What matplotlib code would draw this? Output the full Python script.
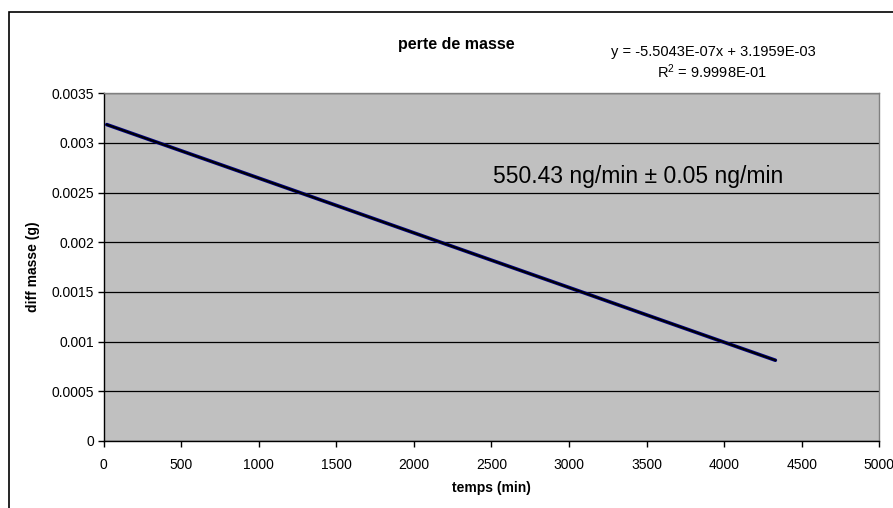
import matplotlib.pyplot as plt
from matplotlib.patches import Rectangle

plt.rcParams['font.family'] = ['Liberation Sans', 'DejaVu Sans']

# mesures : temps (min) et perte de masse (g)
temps = [20, 500, 1000, 1500, 2000, 2500, 3000, 3500, 4000, 4330]
diff_masse = [0.003185, 0.002921, 0.002646, 0.002371, 0.002095,
              0.001820, 0.001545, 0.001269, 0.000994, 0.000813]

# courbe de tendance (Excel)
pente = -5.5043E-07
origine = 3.1959E-03
r2_txt = '9.9998E-01'
debit_txt = '550.43 ng/min \u00b1 0.05 ng/min'

fig = plt.figure(figsize=(8.93, 5.08), dpi=100)
ax = fig.add_axes([103.7 / 893, 1 - 441 / 508, (879.3 - 103.7) / 893, (441 - 93.3) / 508])

# cadre du graphique
fig.patches.append(Rectangle((9 / 893, -0.1), 1.2, 1 - 12 / 508 + 0.1,
                             transform=fig.transFigure, fill=False,
                             edgecolor='black', linewidth=1.2))

ax.set_facecolor('#c0c0c0')
ax.plot(temps, diff_masse, color='#000080', linewidth=2.6, solid_capstyle='round', zorder=3)
xt = [temps[0], temps[-1]]
ax.plot(xt, [pente * x + origine for x in xt], color='black', linewidth=1.4, zorder=4)

ax.set_xlim(0, 5000)
ax.set_ylim(0, 0.0035)
ax.set_xticks(range(0, 5001, 500))
yticks = [0, 0.0005, 0.001, 0.0015, 0.002, 0.0025, 0.003, 0.0035]
ax.set_yticks(yticks)
ax.set_yticklabels(['0', '0.0005', '0.001', '0.0015', '0.002', '0.0025', '0.003', '0.0035'])
ax.grid(axis='y', color='black', linewidth=0.9)
ax.set_axisbelow(True)
for s in ['top', 'right']:
    ax.spines[s].set_color('#808080')
    ax.spines[s].set_linewidth(1)
for s in ['left', 'bottom']:
    ax.spines[s].set_linewidth(1)
ax.tick_params(axis='both', labelsize=10, length=4, width=1, direction='out')
ax.tick_params(axis='x', pad=8)
ax.tick_params(axis='y', pad=3)

ax.set_xlabel('temps (min)', fontsize=10, fontweight='bold', labelpad=7)
ax.set_ylabel('diff masse (g)', fontsize=10, fontweight='bold', labelpad=8)

fig.text(456 / 893, 1 - 45 / 508, 'perte de masse', fontsize=11.5, fontweight='bold',
         ha='center', va='center')
fig.text(713 / 893, 1 - 52 / 508, 'y = %.4E' % pente + 'x + %.4E' % origine,
         fontsize=10.5, ha='center', va='center')
fig.text(712 / 893, 1 - 72 / 508, '$\\mathregular{R^2}$ = ' + r2_txt,
         fontsize=10.5, ha='center', va='center')
fig.text(638 / 893, 1 - 177 / 508, debit_txt, fontsize=16.5, ha='center', va='center')

fig.savefig('out.png', dpi=100)
